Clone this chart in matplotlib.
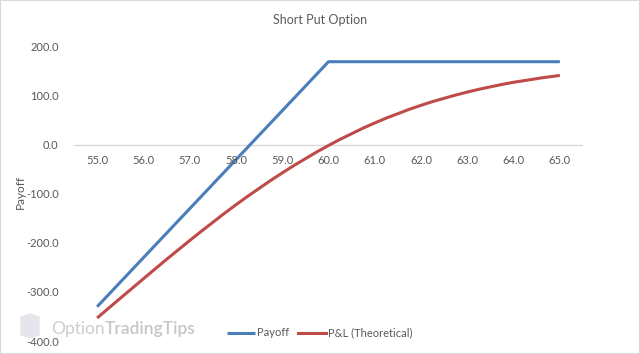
import matplotlib
matplotlib.use('Agg')
import numpy as np
from matplotlib import pyplot as plt
from matplotlib.patches import Polygon, PathPatch
from matplotlib.path import Path

# chart data
strikes = [55.0, 56.0, 57.0, 58.0, 59.0, 60.0, 61.0, 62.0, 63.0, 64.0, 65.0]
payoff = [-330, -230, -130, -30, 70, 170, 170, 170, 170, 170, 170]
pnl = [-353, -273, -195, -122, -57, -1, 45, 81, 108, 128, 142]
yticks = [200, 100, 0, -100, -200, -300, -400]

def smoothPath(x, y):
  # Excel-like smoothed line: catmull-rom segments as cubic beziers
  pts = np.column_stack([x, y]).astype(float)
  n = len(pts)
  verts = [pts[0]]
  codes = [Path.MOVETO]
  for i in range(n - 1):
    p0 = pts[i - 1] if i > 0 else pts[i]
    p1 = pts[i]
    p2 = pts[i + 1]
    p3 = pts[i + 2] if i + 2 < n else pts[i + 1]
    verts += [p1 + (p2 - p0) / 6., p2 - (p3 - p1) / 6., p2]
    codes += [Path.CURVE4] * 3
  return Path(verts, codes)

plt.rcParams['font.family'] = ['Lato', 'DejaVu Sans']
txt = '#595959'
blue = '#4a7ebb'
red = '#be4b48'

fig = plt.figure(figsize=(6.4, 3.54), dpi=100)
ax = fig.add_axes([74/640, 1 - 341/354, (583 - 74)/640, (341 - 47)/354])

xs = list(range(len(strikes)))
ax.plot(xs, payoff, color=blue, lw=2.2, label='Payoff', solid_capstyle='butt')
ax.plot([], [], color=red, lw=2.2, label='P&L (Theoretical)')
ax.add_patch(PathPatch(smoothPath(xs, pnl), fill=False, edgecolor=red, lw=2.2,
  capstyle='butt'))

ax.set_xlim(-0.5, len(strikes) - 0.5)
ax.set_ylim(-400, 200)
ax.axhline(0, color='#d9d9d9', lw=1, zorder=0)

for s in ax.spines.values():
  s.set_visible(False)
ax.set_xticks([])
ax.set_yticks(yticks)
ax.set_yticklabels(['%.1f' % v for v in yticks], color=txt, fontsize=8)
ax.tick_params(axis='y', length=0, pad=11)

# category labels sit under the zero line
for i, s in enumerate(strikes):
  ax.annotate('%.1f' % s, (i, 0), xytext=(0, -11), textcoords='offset points',
    ha='center', va='center', fontsize=8, color=txt)

fig.text(20/640, 1 - 192/354, 'Payoff', rotation=90, ha='center', va='center',
  fontsize=8.5, color=txt)
fig.text(0.5, 1 - 20/354, 'Short Put Option', ha='center', va='center',
  fontsize=9, color=txt)

# watermark
fig.add_artist(Polygon([[21/640, 1-317/354], [30/640, 1-314/354], [39/640, 1-317/354],
  [39/640, 1-335/354], [30/640, 1-338/354], [21/640, 1-335/354]],
  closed=True, transform=fig.transFigure, color='#e4e6ec', zorder=0))
wm = fig.text(51/640, 1 - 329/354, 'Option', fontsize=12.5, color='#cdcdcd',
  va='center')
ax.annotate('TradingTips', xy=(1, 0.5), xycoords=wm, va='center', ha='left',
  fontsize=12.5, color='#c6c6c6', fontweight='semibold', annotation_clip=False)

fig.legend(loc='center', bbox_to_anchor=(0.5, 1 - 333/354), ncol=2, frameon=False,
  fontsize=8, labelcolor=txt, handlelength=2.5, handletextpad=0.2, columnspacing=0.8)

fig.add_artist(plt.Rectangle((0, 0), 1, 1, transform=fig.transFigure, fill=False,
  edgecolor='#d9d9d9', lw=1.5))

fig.savefig('out.png', dpi=100)
